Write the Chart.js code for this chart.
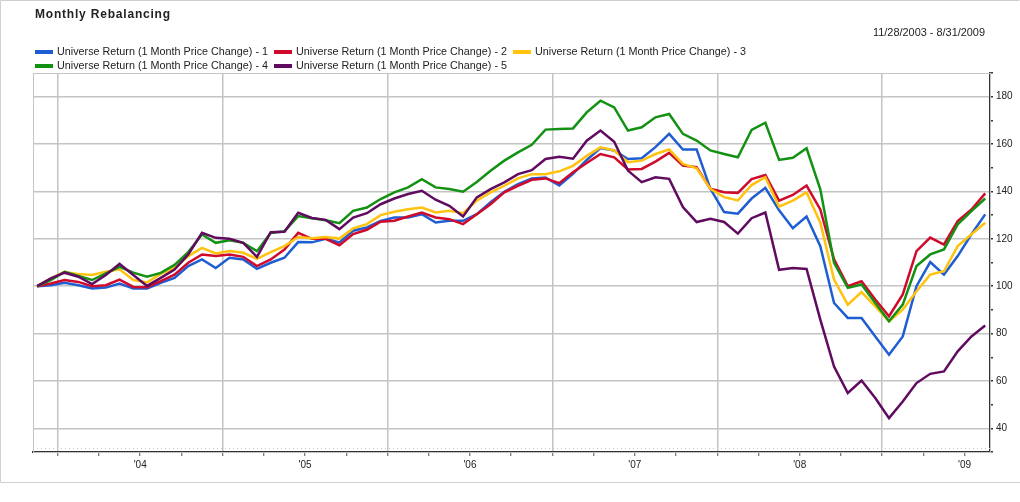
<!DOCTYPE html>
<html>
<head>
<meta charset="utf-8">
<script src="https://cdn.jsdelivr.net/npm/chart.js@4.4.0/dist/chart.umd.min.js"></script>
<style>
  html, body { margin: 0; padding: 0; background: #fff; }
  #wrap { width: 1020px; height: 502px; }
</style>
</head>
<body>
<div id="wrap"><canvas id="myChart" width="1020" height="502"></canvas></div>
<script>
// month-end points, 11/28/2003 .. 8/31/2009 (70 months)
const chartTitle = "Monthly Rebalancing";
const dateRange = "11/28/2003 - 8/31/2009";
const seriesNames = [
  "Universe Return (1 Month Price Change) - 1",
  "Universe Return (1 Month Price Change) - 2",
  "Universe Return (1 Month Price Change) - 3",
  "Universe Return (1 Month Price Change) - 4",
  "Universe Return (1 Month Price Change) - 5"
];
const seriesColors = ["#1f5ed2", "#cf0a2c", "#ffc20f", "#139113", "#600a60"];

const q1 = [100,100.4,101.4,100.4,99,99.4,101.1,99,99,101.4,103.5,108.5,111.3,107.7,112,111.3,107.3,109.9,112,118.6,
  118.5,120,118.5,123.4,124.8,127.6,129,129,130.4,126.9,127.6,127.6,130.4,135.4,139.9,143.1,145.5,145.9,142.5,147.4,
  153.3,158.3,157.3,153.7,154,158.7,164.3,157.7,157.7,141.1,131.3,130.6,137,141.5,132,124.5,129.4,116.9,92.9,86.6,
  86.6,78.8,71.1,78.8,100,110.2,104.9,112.7,121.9,130.3];
const q2 = [100,101.1,102.6,101.8,100,100.4,102.8,99.7,99.6,102.1,104.9,109.9,113.4,112.7,113.4,112.4,108.5,111.3,115.5,122.5,
  120,120,117.3,122,123.8,127.2,127.6,129.4,131.1,129,128.3,126.2,130.4,134.6,139.6,142.4,144.9,145.5,143.5,148.1,
  152,155.8,154.4,149.3,149.5,152.6,156.3,150.9,150.2,141.1,139.7,139.4,145.2,146.9,136.1,138.5,142.5,132.4,111.3,100,
  102.1,94.4,87.3,96.5,114.8,120.5,117.6,127.5,132.4,139.2];
const q3 = [100,103.3,106.1,105.1,104.7,106.1,107.1,102.6,101.6,105.2,107.7,112.7,116.2,113.8,114.8,114.1,111.5,114.4,116.9,120.8,
  120.2,120.8,120.1,124.4,126.2,130,131.4,132.5,133.2,131.1,131.8,130.8,136.1,139.6,142.4,145.5,147.3,147.3,148.5,150.8,
  155,158.6,157.3,152.3,153,155.8,157.7,151.6,149.8,141.1,137.6,136.2,142.7,146,133.6,136.1,139.6,126.8,102.8,92.2,
  97.5,91.5,85.2,90.1,97.9,104.9,106.3,116.9,121.9,126.8];
const q4 = [100,102.6,106.1,104.3,102.6,105.4,108.2,105.7,104,105.6,109,114.4,121.8,118.3,119.4,118.3,114.8,122.5,123.2,129.6,
  128.7,127.8,126.6,131.8,133.2,136.8,139.6,141.7,145.2,141.7,141,139.9,144,148.7,153,156.5,159.7,166.1,166.4,166.6,
  173.4,178.3,175.5,165.7,167.1,171.3,172.7,164.3,161.5,157.3,155.8,154.4,166,169,153.3,154.2,158.2,140.9,109.9,99.3,
  100.7,92.9,85.2,92.2,108.5,113.4,115.5,126.1,131.7,137];
const q5 = [100,103.3,105.7,104,100.9,104.7,109.4,104.7,100.1,103.5,107,113.4,122.5,120.4,120,118.3,112.4,122.8,123,131,
  128.8,128,124.1,129,130.8,134.6,137,138.9,140.3,136.5,133.9,129.4,137.5,141,143.8,147.3,149,153.7,154.6,153.8,
  161.4,165.7,161,148.8,143.9,146,145.3,133.4,127.1,128.5,127.1,122.2,128.7,131.1,106.9,107.7,107.3,85.9,66.1,54.9,
  60.2,52.8,44.3,51.3,59.1,63,64,72.5,78.8,83.4];
const seriesValues = [q1, q2, q3, q4, q5];

const yearLabels = ["'04", "'05", "'06", "'07", "'08", "'09"];
const yMin = 30, yMax = 190;

const monthIdx = q1.map((v, i) => i);

// quarter ticks; first Jan sits about 1.5 months after the first point
const quarterTicks = [];
for (let t = 1.5; t < 69; t += 3) quarterTicks.push(t);
const isJan = v => Math.abs(((v - 1.5) % 12)) < 0.01;
const isJul = v => Math.abs(((v - 7.5) % 12)) < 0.01;

const FONT = '"Liberation Sans", Arial, sans-serif';

// title, date range, legend, outer frame
const header = {
  id: 'header',
  beforeDatasetsDraw(chart) {
    const { ctx, chartArea: a } = chart;
    ctx.save();
    ctx.strokeStyle = '#c4c4c4';
    ctx.lineWidth = 1;
    ctx.strokeRect(a.left + 0.5, a.top + 0.5, a.right - a.left, a.bottom - a.top);
    // faint dotted line just above the x axis
    ctx.setLineDash([1, 3]);
    ctx.strokeStyle = '#c8c8c8';
    ctx.beginPath();
    ctx.moveTo(a.left, a.bottom - 3.5);
    ctx.lineTo(a.right, a.bottom - 3.5);
    ctx.stroke();
    ctx.restore();
  },
  afterDraw(chart) {
    const ctx = chart.ctx;
    ctx.save();
    ctx.strokeStyle = '#cfcfcf';
    ctx.lineWidth = 1;
    ctx.beginPath();
    ctx.moveTo(0.5, 482.5); ctx.lineTo(0.5, 0.5); ctx.lineTo(1019.5, 0.5);
    ctx.moveTo(0.5, 482.5); ctx.lineTo(1020, 482.5);
    ctx.stroke();

    ctx.fillStyle = '#222';
    ctx.textBaseline = 'middle';
    ctx.font = 'bold 12px ' + FONT;
    ctx.letterSpacing = '0.8px';
    ctx.fillText(chartTitle, 35, 15);
    ctx.letterSpacing = '0px';

    ctx.font = '11px ' + FONT;
    ctx.textAlign = 'right';
    ctx.fillText(dateRange, 985, 33, 112);
    ctx.textAlign = 'left';

    chart.data.datasets.forEach((ds, i) => {
      const x = 35 + (i % 3) * 239;
      const y = 52 + Math.floor(i / 3) * 14;
      ctx.fillStyle = ds.borderColor;
      ctx.fillRect(x, y - 2, 18, 4);
      ctx.fillStyle = '#222';
      ctx.fillText(ds.label, x + 22, y, 211);
    });
    ctx.restore();
  }
};

const datasets = seriesNames.map((name, i) => ({
  label: name,
  data: seriesValues[i],
  borderColor: seriesColors[i],
  backgroundColor: seriesColors[i],
  borderWidth: 2.5,
  pointRadius: 0,
  tension: 0,
  order: 5 - i
}));

new Chart(document.getElementById("myChart"), {
  type: "line",
  data: { labels: monthIdx, datasets: datasets },
  options: {
    responsive: false,
    animation: false,
    devicePixelRatio: 1,
    layout: { padding: { top: 73, left: 33, right: 0, bottom: 20 } },
    plugins: { legend: { display: false }, tooltip: { enabled: false } },
    scales: {
      x: {
        type: "linear",
        min: -0.3,
        max: 69.35,
        afterBuildTicks: s => { s.ticks = quarterTicks.map(v => ({ value: v })); },
        afterFit: s => { s.height = 30; },
        ticks: {
          autoSkip: false,
          maxRotation: 0,
          padding: 3,
          color: '#222',
          font: { family: FONT, size: 10 },
          callback: v => isJul(v) ? yearLabels[Math.round((v - 7.5) / 12)] : ''
        },
        grid: {
          color: c => isJan(c.tick.value) ? '#c4c4c4' : 'rgba(0,0,0,0)',
          lineWidth: 1.5,
          tickColor: '#555',
          tickLength: 4,
          tickWidth: 1
        },
        border: { color: '#333', width: 2 }
      },
      y: {
        position: "right",
        min: yMin,
        max: yMax,
        afterFit: s => { s.width = 30; },
        ticks: {
          stepSize: 10,
          padding: 3,
          color: '#222',
          font: { family: FONT, size: 10 },
          callback: v => (v % 20 === 0 && v >= 40 && v <= 180) ? v : ''
        },
        grid: {
          color: c => c.tick.value % 20 === 0 ? '#c4c4c4' : 'rgba(0,0,0,0)',
          lineWidth: 1.5,
          tickColor: '#333',
          tickLength: 3
        },
        border: { color: '#333', width: 1.5 }
      }
    }
  },
  plugins: [header]
});
</script>
</body>
</html>
